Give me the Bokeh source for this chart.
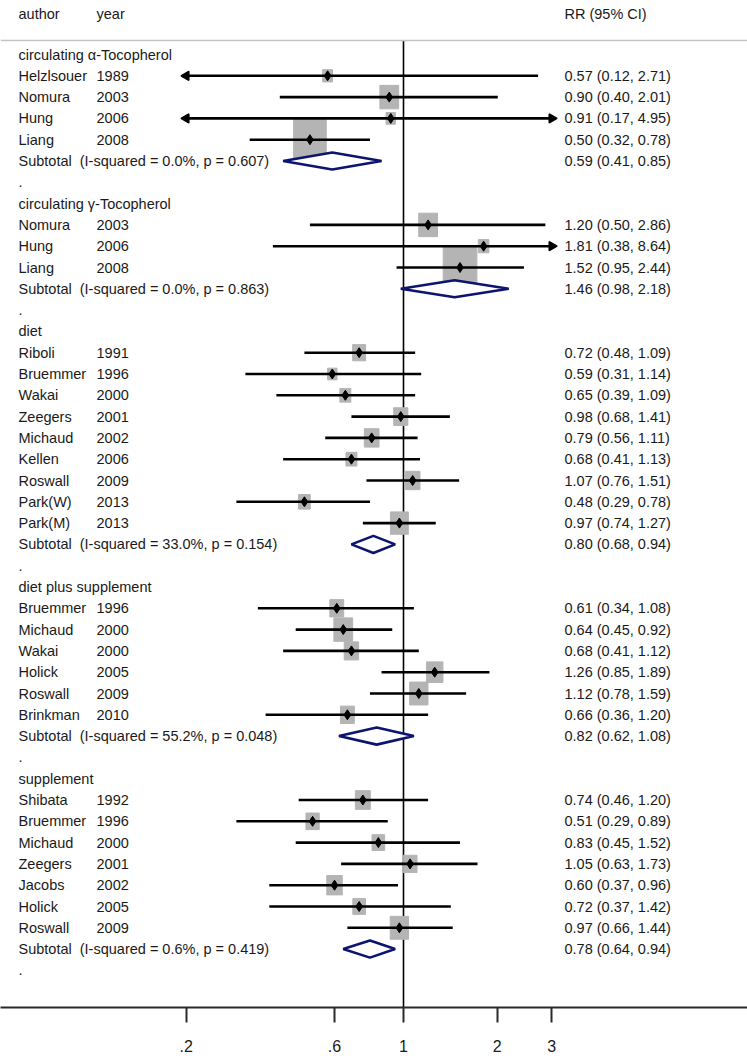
import math
from bokeh.plotting import figure
from bokeh.models import Range1d, FixedTicker, Span, ColumnDataSource
from bokeh.core.properties import value
from bokeh.embed import file_html
from bokeh.resources import INLINE

# ---------------- data ----------------
group_titles = ["circulating α-Tocopherol", "circulating γ-Tocopherol", "diet",
                "diet plus supplement", "supplement"]

alpha_authors = ["Helzlsouer", "Nomura", "Hung", "Liang"]
alpha_years = ["1989", "2003", "2006", "2008"]
alpha_rr = [0.57, 0.90, 0.91, 0.50]
alpha_lo = [0.12, 0.40, 0.17, 0.32]
alpha_hi = [2.71, 2.01, 4.95, 0.78]
alpha_wt = [6.0, 22.0, 5.5, 66.5]

gamma_authors = ["Nomura", "Hung", "Liang"]
gamma_years = ["2003", "2006", "2008"]
gamma_rr = [1.20, 1.81, 1.52]
gamma_lo = [0.50, 0.38, 0.95]
gamma_hi = [2.86, 8.64, 2.44]
gamma_wt = [22.0, 7.0, 71.0]

diet_authors = ["Riboli", "Bruemmer", "Wakai", "Zeegers", "Michaud", "Kellen",
                "Roswall", "Park(W)", "Park(M)"]
diet_years = ["1991", "1996", "2000", "2001", "2002", "2006", "2009", "2013", "2013"]
diet_rr = [0.72, 0.59, 0.65, 0.98, 0.79, 0.68, 1.07, 0.48, 0.97]
diet_lo = [0.48, 0.31, 0.39, 0.68, 0.56, 0.41, 0.76, 0.29, 0.74]
diet_hi = [1.09, 1.14, 1.09, 1.41, 1.11, 1.13, 1.51, 0.78, 1.27]
diet_wt = [10.5, 5.5, 7.5, 12.5, 13.5, 7.5, 13.5, 8.5, 20.0]

dps_authors = ["Bruemmer", "Michaud", "Wakai", "Holick", "Roswall", "Brinkman"]
dps_years = ["1996", "2000", "2000", "2005", "2009", "2010"]
dps_rr = [0.61, 0.64, 0.68, 1.26, 1.12, 0.66]
dps_lo = [0.34, 0.45, 0.41, 0.85, 0.78, 0.36]
dps_hi = [1.08, 0.92, 1.12, 1.89, 1.59, 1.20]
dps_wt = [12.0, 22.0, 13.0, 17.0, 21.0, 12.0]

supp_authors = ["Shibata", "Bruemmer", "Michaud", "Zeegers", "Jacobs", "Holick", "Roswall"]
supp_years = ["1992", "1996", "2000", "2001", "2002", "2005", "2009"]
supp_rr = [0.74, 0.51, 0.83, 1.05, 0.60, 0.72, 0.97]
supp_lo = [0.46, 0.29, 0.45, 0.63, 0.37, 0.37, 0.66]
supp_hi = [1.20, 0.89, 1.52, 1.73, 0.96, 1.42, 1.44]
supp_wt = [14.0, 11.0, 10.0, 12.0, 15.0, 10.0, 21.0]

sub_rr = [0.59, 1.46, 0.80, 0.82, 0.78]
sub_lo = [0.41, 0.98, 0.68, 0.62, 0.64]
sub_hi = [0.85, 2.18, 0.94, 1.08, 0.94]
sub_i2 = ["0.0", "0.0", "33.0", "55.2", "0.6"]
sub_p = ["0.607", "0.863", "0.154", "0.048", "0.419"]

tick_values = [0.2, 0.6, 1, 2, 3]
tick_labels = [".2", ".6", "1", "2", "3"]
clip_lo, clip_hi = 0.2, 3.0

# ---------------- layout constants ----------------
FW, FH = 747, 1007         # frame size in px
PX_LN = 135.0              # px per natural-log unit
ONE_PX = 403.0             # frame px of RR = 1
ROW_H = 21.3
ROW0 = 54.0                # frame px of first row
FONT = "Liberation Sans"
FS = "14.5px"
TXT = "#1a1a1a"
BOX = "#b4b4b4"
NAVY = "#0c1470"


def xpx(px):
    return math.exp((px - ONE_PX) / PX_LN)


x_start, x_end = xpx(0), xpx(FW)
y_top = -ROW0 / ROW_H
y_bot = y_top + FH / ROW_H

groups = [
    (alpha_authors, alpha_years, alpha_rr, alpha_lo, alpha_hi, alpha_wt),
    (gamma_authors, gamma_years, gamma_rr, gamma_lo, gamma_hi, gamma_wt),
    (diet_authors, diet_years, diet_rr, diet_lo, diet_hi, diet_wt),
    (dps_authors, dps_years, dps_rr, dps_lo, dps_hi, dps_wt),
    (supp_authors, supp_years, supp_rr, supp_lo, supp_hi, supp_wt),
]

# build rows
c1_t, c1_y, c2_t, c2_y, c3_t, c3_y = [], [], [], [], [], []
st = dict(rr=[], y=[], x0=[], x1=[], w=[], h=[])
arrows_l, arrows_r = dict(x=[], y=[]), dict(x=[], y=[])
dia_xs, dia_ys = [], []
row = 0
for gi, (au, yr, rr, lo, hi, wt) in enumerate(groups):
    c1_t.append(group_titles[gi]); c1_y.append(row)
    row += 1
    for a, yy, r, l, h, w in zip(au, yr, rr, lo, hi, wt):
        c1_t.append(a); c1_y.append(row)
        c2_t.append(yy); c2_y.append(row)
        c3_t.append(f"{r:.2f} ({l:.2f}, {h:.2f})"); c3_y.append(row)
        st["rr"].append(r); st["y"].append(row)
        st["x0"].append(max(l, clip_lo)); st["x1"].append(min(h, clip_hi))
        side = 4.0 * math.sqrt(w)
        st["w"].append(side); st["h"].append(side * 1.25)
        if l < clip_lo:
            arrows_l["x"].append(clip_lo); arrows_l["y"].append(row)
        if h > clip_hi:
            arrows_r["x"].append(clip_hi); arrows_r["y"].append(row)
        row += 1
    c1_t.append(f"Subtotal\u00a0 (I-squared = {sub_i2[gi]}%, p = {sub_p[gi]})"); c1_y.append(row)
    c3_t.append(f"{sub_rr[gi]:.2f} ({sub_lo[gi]:.2f}, {sub_hi[gi]:.2f})"); c3_y.append(row)
    dia_xs.append([sub_lo[gi], sub_rr[gi], sub_hi[gi], sub_rr[gi]])
    dia_ys.append([row, row - 0.4, row, row + 0.4])
    row += 1
    c1_t.append("."); c1_y.append(row)
    row += 1

p = figure(frame_width=FW, frame_height=FH, x_axis_type="log",
           x_range=Range1d(x_start, x_end), y_range=Range1d(y_bot, y_top),
           output_backend="svg", toolbar_location=None,
           min_border_left=0, min_border_right=0, min_border_top=0, min_border_bottom=0)
p.yaxis.visible = False
p.xgrid.visible = False
p.ygrid.visible = False
p.outline_line_color = None
p.background_fill_color = "white"
p.border_fill_color = "white"

# header
p.text(x=[xpx(18), xpx(96), xpx(564)], y=[y_top + 13 / ROW_H] * 3,
       text=["author", "year", "RR (95% CI)"], text_font=value(FONT),
       text_font_size=FS, text_color=TXT, text_baseline="middle", text_align="left")
p.add_layout(Span(location=y_top + 40 / ROW_H, dimension="width",
                  line_color="#c4c4c4", line_width=1.5))

# null line
p.segment(x0=[1], y0=[y_top + 40 / ROW_H], x1=[1], y1=[y_bot], line_color="black", line_width=1.6)

src = ColumnDataSource(st)
p.rect(x="rr", y="y", width="w", height="h", width_units="screen", height_units="screen",
       source=src, fill_color=BOX, line_color=BOX)
p.segment(x0="x0", y0="y", x1="x1", y1="y", source=src, line_color="black", line_width=2.6)
p.scatter(x="rr", y="y", source=src, marker="diamond", size=10, fill_color="black",
          line_color="black")
p.scatter(x=arrows_l["x"], y=arrows_l["y"], marker="triangle", angle=math.pi / 2, size=9,
          fill_color="black", line_color="black", line_width=1.5)
p.scatter(x=arrows_r["x"], y=arrows_r["y"], marker="triangle", angle=-math.pi / 2, size=9,
          fill_color="black", line_color="black", line_width=1.5)

p.patches(xs=dia_xs, ys=dia_ys, fill_color="white", line_color=NAVY, line_width=2.6)

# text columns
p.text(x=[xpx(18)] * len(c1_t), y=c1_y, text=c1_t, text_font=value(FONT), text_font_size=FS,
       text_color=TXT, text_baseline="middle", text_align="left")
p.text(x=[xpx(96)] * len(c2_t), y=c2_y, text=c2_t, text_font=value(FONT), text_font_size=FS,
       text_color=TXT, text_baseline="middle", text_align="left")
p.text(x=[xpx(564)] * len(c3_t), y=c3_y, text=c3_t, text_font=value(FONT), text_font_size=FS,
       text_color=TXT, text_baseline="middle", text_align="left")

ax = p.xaxis[0]
ax.ticker = FixedTicker(ticks=tick_values, minor_ticks=[])
ax.major_label_overrides = {v: l for v, l in zip(tick_values, tick_labels)}
ax.axis_line_color = "#2a2a2a"
ax.axis_line_width = 2
ax.major_tick_line_color = "#2a2a2a"
ax.major_tick_line_width = 2
ax.major_tick_out = 15
ax.major_tick_in = 0
ax.minor_tick_line_color = None
ax.major_label_standoff = 17
ax.major_label_text_font = FONT
ax.major_label_text_font_size = "16px"
ax.major_label_text_color = TXT

open("out.html", "w").write(file_html(p, INLINE))
